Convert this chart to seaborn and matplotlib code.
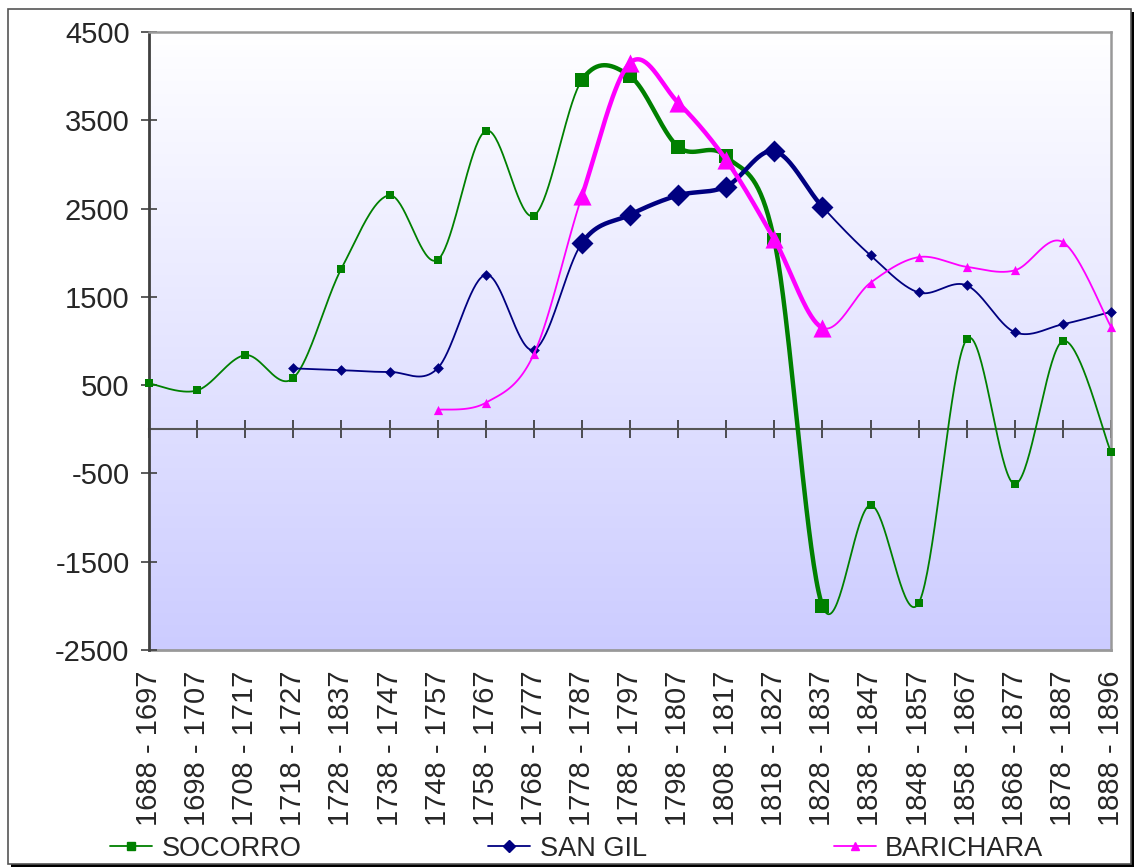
import numpy as np
import pandas as pd
import matplotlib.pyplot as plt
import seaborn as sns
from matplotlib.colors import LinearSegmentedColormap
from matplotlib.lines import Line2D
from matplotlib.patches import Rectangle

sns.set_style("white")
plt.rcParams['font.family'] = ['Liberation Sans', 'DejaVu Sans']
plt.rcParams['axes.unicode_minus'] = False

# Data
periods = ["1688 - 1697", "1698 - 1707", "1708 - 1717", "1718 - 1727", "1728 - 1837",
           "1738 - 1747", "1748 - 1757", "1758 - 1767", "1768 - 1777", "1778 - 1787",
           "1788 - 1797", "1798 - 1807", "1808 - 1817", "1818 - 1827", "1828 - 1837",
           "1838 - 1847", "1848 - 1857", "1858 - 1867", "1868 - 1877", "1878 - 1887",
           "1888 - 1896"]
socorro = [520, 440, 840, 580, 1820, 2650, 1920, 3380, 2420, 3955, 4000,
           3200, 3090, 2140, -2000, -860, -1970, 1020, -620, 1000, -260]
san_gil = [np.nan, np.nan, np.nan, 690, 670, 650, 690, 1750, 900, 2110, 2430,
           2650, 2750, 3150, 2520, 1970, 1550, 1630, 1100, 1190, 1330]
barichara = [np.nan] * 6 + [220, 300, 850, 2640, 4150, 3700, 3050, 2150, 1150,
                            1660, 1950, 1840, 1800, 2120, 1160]

# highlighted block (bigger markers, thicker line)
hi_start, hi_end = 9, 14

series = [
    ("SOCORRO", socorro, "#008000", "s", 28, 115),
    ("SAN GIL", san_gil, "#000080", "D", 30, 125),
    ("BARICHARA", barichara, "#FF00FF", "^", 44, 170),
]


def bezier_segment(p0, p1, p2, p3, n=40):
    # Excel-style smoothing: cubic bezier with catmull-rom control points
    c1 = p1 + (p2 - p0) / 6.0
    c2 = p2 - (p3 - p1) / 6.0
    t = np.linspace(0, 1, n)[:, None]
    return ((1 - t) ** 3) * p1 + 3 * ((1 - t) ** 2) * t * c1 + 3 * (1 - t) * t ** 2 * c2 + t ** 3 * p2


fig = plt.figure(figsize=(11.35, 8.67), dpi=100)

# outer frame with shadow
fig.patches.append(Rectangle((11 / 1135, 0.0), 1123 / 1135, 855 / 867, transform=fig.transFigure,
                             facecolor='black', edgecolor='none', zorder=-3))
fig.patches.append(Rectangle((8 / 1135, 3 / 867), 1123 / 1135, 855 / 867, transform=fig.transFigure,
                             facecolor='white', edgecolor='#555555', linewidth=1.2, zorder=-2))

ax = fig.add_axes([149 / 1135, 1 - 650 / 867, (1111 - 149) / 1135, (650 - 32) / 867])

# gradient background
cmap = LinearSegmentedColormap.from_list("bg", ["#FFFFFF", "#CCCCFF"])
ax.imshow(np.linspace(0, 1, 256).reshape(-1, 1), cmap=cmap, extent=[0, 1, 0, 1],
          transform=ax.transAxes, aspect='auto', zorder=0)

for k, (name, vals, color, marker, s_small, s_big) in enumerate(series):
    df = pd.DataFrame({"x": np.arange(len(periods)), "y": vals}).dropna()
    pts = df[["x", "y"]].to_numpy(dtype=float)
    idx = df["x"].to_numpy()
    # build runs of segments with the same width
    runs = []
    for i in range(len(pts) - 1):
        p0 = pts[i - 1] if i > 0 else pts[i]
        p3 = pts[i + 2] if i + 2 < len(pts) else pts[i + 1]
        seg = bezier_segment(p0, pts[i], pts[i + 1], p3)
        thick = hi_start < idx[i + 1] <= hi_end
        if runs and runs[-1][0] == thick:
            runs[-1][1].append(seg[1:])
        else:
            runs.append([thick, [seg]])
    for thick, segs in runs:
        curve = np.vstack(segs)
        sns.lineplot(x=curve[:, 0], y=curve[:, 1], sort=False, estimator=None, ax=ax,
                     color=color, linewidth=3.2 if thick else 1.3, zorder=3 + k)
    big = (df["x"] >= hi_start) & (df["x"] <= hi_end)
    sns.scatterplot(data=df[~big], x="x", y="y", marker=marker, s=s_small, color=color,
                    linewidth=0, ax=ax, zorder=3.5 + k, clip_on=False)
    sns.scatterplot(data=df[big], x="x", y="y", marker=marker, s=s_big, color=color,
                    linewidth=0, ax=ax, zorder=3.5 + k, clip_on=False)

ax.set_xlim(0, len(periods) - 1)
ax.set_ylim(-2500, 4500)
ax.set_xlabel("")
ax.set_ylabel("")

# y axis
ax.set_yticks(np.arange(-2500, 4501, 1000))
ax.tick_params(axis='y', direction='inout', length=12, width=1.2, color='#404040',
               pad=8, labelsize=21, left=True)
ax.spines['left'].set_color('#404040')
ax.spines['left'].set_linewidth(2)
for side in ['top', 'right']:
    ax.spines[side].set_color('#999999')
    ax.spines[side].set_linewidth(1.8)

# category axis crossing at zero
ax.spines['bottom'].set_position(('data', 0))
ax.spines['bottom'].set_color('#555555')
ax.spines['bottom'].set_linewidth(1.5)
ax.spines['bottom'].set_zorder(2)
ax.set_xticks(range(len(periods)))
ax.tick_params(axis='x', direction='inout', length=12.5, width=1.2, color='#333333',
               labelbottom=False, bottom=True)

# category labels along the bottom of the plot area
sec = ax.secondary_xaxis('bottom')
sec.set_xticks(range(len(periods)), labels=periods, rotation=90, fontsize=21)
sec.tick_params(length=0, pad=15)
sec.spines['bottom'].set_color('#999999')
sec.spines['bottom'].set_linewidth(2)

# legend
handles = [Line2D([0], [0], color=c, marker=m, markersize=6, linewidth=1.3)
           for _, _, c, m, _, _ in series]
fig.legend(handles, [s[0] for s in series], loc='center', bbox_to_anchor=(0.508, 0.021),
           ncol=3, frameon=False, fontsize=19.5, handlelength=1.55, handletextpad=0.35,
           columnspacing=6.9)

fig.savefig("out.png", dpi=100)
